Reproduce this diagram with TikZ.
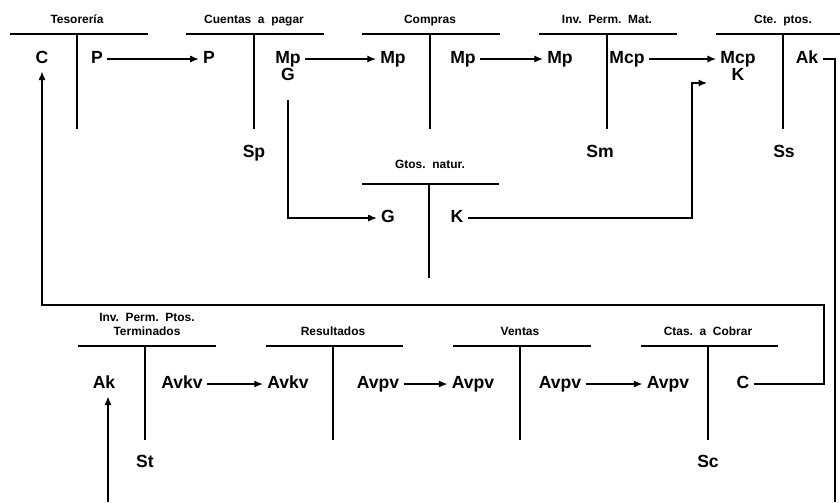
\documentclass[tikz,border=0pt]{standalone}
\usepackage{fontspec}
\setmainfont{Liberation Sans}
\usetikzlibrary{arrows.meta}
\begin{document}
\begin{tikzpicture}[>={Latex[length=6pt,width=5pt]},x=0.025cm,y=-0.025cm,
	acct/.style={font=\bfseries\fontsize{12.5}{14}\selectfont,inner sep=3pt,text height=9pt,text depth=2.5pt},
	ttl/.style={font=\bfseries\fontsize{8.5}{10}\selectfont,align=center,inner sep=1pt,text height=6.5pt,text depth=2pt},
	flow/.style={->,line width=0.8pt},
	tline/.style={line width=0.8pt}]
	\useasboundingbox (0,0) rectangle (840,502);
	% top row
	\foreach \x/\l/\r in {77/10/148,254/186/324,430/362/500,607/539/677,783/716/840}{
		\draw[tline] (\l,34) -- (\r,34) (\x,34) -- (\x,129);
	}
	\node[ttl] (tTes) at (77,20) {Tesorería};
	\node[ttl] (tCp) at (254,20) {Cuentas\ \ a\ \ pagar};
	\node[ttl] (tCo) at (430,20) {Compras};
	\node[ttl] (tIpm) at (607,20) {Inv.\ \ Perm.\ \ Mat.};
	\node[ttl] (tCt) at (783,20) {Cte.\ \ ptos.};
	\node[acct] (tesC) at (42,59) {C};
	\node[acct] (tesP) at (97,59) {P};
	\node[acct] (cpP) at (209,59) {P};
	\node[acct] (cpMp) at (288,59) {Mp};
	\node[acct] (cpG) at (288,76) {G};
	\node[acct] (cpSp) at (254,153) {Sp};
	\node[acct] (coMp1) at (393,59) {Mp};
	\node[acct] (coMp2) at (463,59) {Mp};
	\node[acct] (ipMp) at (560,59) {Mp};
	\node[acct] (ipMcp) at (627,59) {Mcp};
	\node[acct] (ipSm) at (600,153) {Sm};
	\node[acct] (ctMcp) at (738,59) {Mcp};
	\node[acct] (ctK) at (738,76) {K};
	\node[acct] (ctAk) at (807,59) {Ak};
	\node[acct] (ctSs) at (784,153) {Ss};
	% gastos
	\draw[tline] (362,184) -- (499,184) (429,184) -- (429,278);
	\node[ttl] (tGn) at (430,165) {Gtos.\ \ natur.};
	\node[acct] (gnG) at (388,218) {G};
	\node[acct] (gnK) at (457,218) {K};
	% bottom row
	\foreach \x/\l/\r in {145/78/216,333/266/403,520/453/591,708/641/778}{
		\draw[tline] (\l,346) -- (\r,346) (\x,346) -- (\x,440);
	}
	\node[ttl] (tIpt) at (147,332) {Inv.\ \ Perm.\ \ Ptos.\\Terminados};
	\node[ttl] (tRe) at (333,332) {Resultados};
	\node[ttl] (tVe) at (520,332) {Ventas};
	\node[ttl] (tCc) at (708,332) {Ctas.\ \ a\ \ Cobrar};
	\node[acct] (itAk) at (104,384) {Ak};
	\node[acct] (itAvkv) at (182,384) {Avkv};
	\node[acct] (itSt) at (145,463) {St};
	\node[acct] (reAvkv) at (288,384) {Avkv};
	\node[acct] (reAvpv) at (378,384) {Avpv};
	\node[acct] (veAvpv1) at (473,384) {Avpv};
	\node[acct] (veAvpv2) at (560,384) {Avpv};
	\node[acct] (ccAvpv) at (668,384) {Avpv};
	\node[acct] (ccC) at (743,384) {C};
	\node[acct] (ccSc) at (708,463) {Sc};
	% flows
	\draw[flow] (tesP) -- (cpP);
	\draw[flow] (cpMp) -- (coMp1);
	\draw[flow] (coMp2) -- (ipMp);
	\draw[flow] (ipMcp) -- (ctMcp);
	\draw[flow] ([yshift=-8pt]cpG.south) |- (gnG);
	\coordinate (kend) at (707,83);
	\draw[flow] (gnK) -| (692,83) -- (kend);
	\coordinate (akR) at (835,502);
	\draw[line width=0.8pt] (ctAk) -| (akR);
	\draw[flow] (ccC) -| (824,305) -| (tesC);
	\coordinate (akB) at (108,502);
	\draw[flow] (akB) -- (akB |- itAk.south);
	\draw[flow] (itAvkv) -- (reAvkv);
	\draw[flow] (reAvpv) -- (veAvpv1);
	\draw[flow] (veAvpv2) -- (ccAvpv);
\end{tikzpicture}
\end{document}
